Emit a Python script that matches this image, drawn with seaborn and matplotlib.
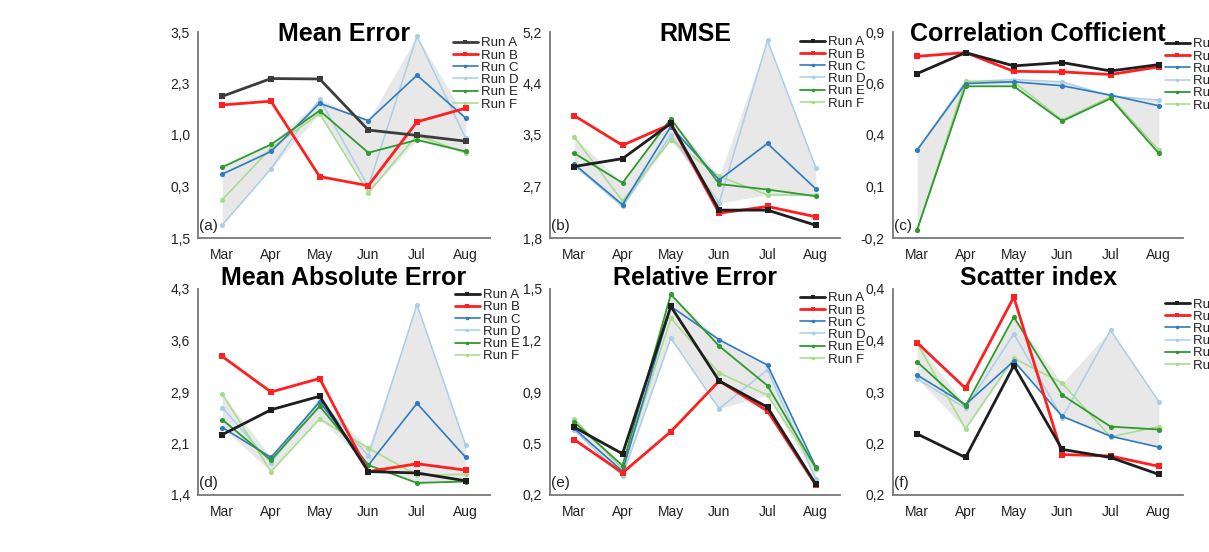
import matplotlib
matplotlib.use("Agg")
import matplotlib.pyplot as plt
import seaborn as sns
import numpy as np
import pandas as pd

months = ["Mar", "Apr", "May", "Jun", "Jul", "Aug"]
runs = ["Run A", "Run B", "Run C", "Run D", "Run E", "Run F"]

# values, one dict per metric
mean_error = {
    "Run A": [1.94, 2.37, 2.36, 1.12, 0.99, 0.85],
    "Run B": [1.73, 1.82, -0.01, -0.23, 1.32, 1.65],
    "Run C": [0.05, 0.60, 1.77, 1.35, 2.45, 1.41],
    "Run D": [-1.18, 0.18, 1.87, -0.25, 3.40, 0.92],
    "Run E": [0.22, 0.77, 1.59, 0.57, 0.88, 0.60],
    "Run F": [-0.57, 0.68, 1.52, -0.40, 1.00, 0.56],
}
rmse = {
    "Run A": [2.98, 3.11, 3.69, 2.26, 2.26, 2.01],
    "Run B": [3.82, 3.33, 3.68, 2.21, 2.32, 2.15],
    "Run C": [3.02, 2.35, 3.64, 2.76, 3.36, 2.61],
    "Run D": [3.00, 2.32, 3.50, 2.38, 5.06, 2.96],
    "Run E": [3.20, 2.71, 3.77, 2.69, 2.60, 2.49],
    "Run F": [3.47, 2.41, 3.42, 2.82, 2.51, 2.51],
}
correlation = {
    "Run A": [0.678, 0.79, 0.719, 0.737, 0.692, 0.726],
    "Run B": [0.77, 0.79, 0.69, 0.687, 0.673, 0.714],
    "Run C": [0.27, 0.625, 0.634, 0.613, 0.563, 0.506],
    "Run D": [0.27, 0.634, 0.646, 0.634, 0.558, 0.536],
    "Run E": [-0.156, 0.61, 0.61, 0.424, 0.545, 0.252],
    "Run F": [-0.156, 0.637, 0.634, 0.43, 0.554, 0.27],
}
mae = {
    "Run A": [2.25, 2.60, 2.79, 1.73, 1.71, 1.60],
    "Run B": [3.35, 2.85, 3.04, 1.73, 1.84, 1.75],
    "Run C": [2.35, 1.93, 2.71, 1.82, 2.69, 1.93],
    "Run D": [2.63, 1.85, 2.74, 1.95, 4.08, 2.10],
    "Run E": [2.46, 1.89, 2.65, 1.82, 1.57, 1.59],
    "Run F": [2.82, 1.73, 2.47, 2.06, 1.68, 1.69],
}
relative_error = {
    "Run A": [0.628, 0.46, 1.39, 0.92, 0.754, 0.267],
    "Run B": [0.55, 0.34, 0.60, 0.92, 0.73, 0.263],
    "Run C": [0.62, 0.35, 1.39, 1.18, 1.02, 0.376],
    "Run D": [0.61, 0.32, 1.19, 0.745, 0.99, 0.30],
    "Run E": [0.66, 0.386, 1.466, 1.14, 0.89, 0.37],
    "Run F": [0.68, 0.365, 1.315, 0.97, 0.83, 0.365],
}
scatter_index = {
    "Run A": [0.243, 0.211, 0.336, 0.222, 0.211, 0.188],
    "Run B": [0.367, 0.305, 0.429, 0.215, 0.213, 0.199],
    "Run C": [0.323, 0.283, 0.342, 0.267, 0.240, 0.225],
    "Run D": [0.318, 0.278, 0.379, 0.265, 0.384, 0.287],
    "Run E": [0.341, 0.281, 0.402, 0.296, 0.253, 0.249],
    "Run F": [0.366, 0.250, 0.346, 0.312, 0.239, 0.253],
}

titles = ["Mean Error", "RMSE", "Correlation Cofficient",
          "Mean Absolute Error", "Relative Error", "Scatter index"]
tags = ["(a)", "(b)", "(c)", "(d)", "(e)", "(f)"]
ylims = [(-1.5, 3.5), (1.8, 5.2), (-0.2, 0.9), (1.4, 4.3), (0.2, 1.5), (0.16, 0.44)]
ytick_labels = [
    ["1,5", "0,3", "1,0", "2,3", "3,5"],
    ["1,8", "2,7", "3,5", "4,4", "5,2"],
    ["-0,2", "0,1", "0,4", "0,6", "0,9"],
    ["1,4", "2,1", "2,9", "3,6", "4,3"],
    ["0,2", "0,5", "0,9", "1,2", "1,5"],
    ["0,2", "0,2", "0,3", "0,4", "0,4"],
]
metrics = [mean_error, rmse, correlation, mae, relative_error, scatter_index]

colors = {"Run A": "#1e1e1e", "Run B": "#ff1f1f", "Run C": "#2f7bbf",
          "Run D": "#a9cfe8", "Run E": "#2f9a2f", "Run F": "#a6dc8a"}
widths = {"Run A": 2.0, "Run B": 2.0, "Run C": 1.2, "Run D": 1.1, "Run E": 1.3, "Run F": 1.1}
marks = {"Run A": "s", "Run B": "s", "Run C": "o", "Run D": "o", "Run E": "o", "Run F": "o"}

sns.set_style("white")
plt.rcParams["font.family"] = ["Liberation Sans", "DejaVu Sans"]

fig = plt.figure(figsize=(12.09, 5.52), dpi=100)
lefts = [198, 550, 893]
rights = [490, 840, 1183]
tops = [32, 289]
H = 206
axes = []
for r in range(2):
    for c in range(3):
        axes.append(fig.add_axes([lefts[c] / 1209, (552 - tops[r] - H) / 552,
                                  (rights[c] - lefts[c]) / 1209, H / 552]))

title_y = [0.956, 0.956, 0.956, 1.02, 1.02, 1.02]
leg_x = [0.873, 0.862, 0.937, 0.88, 0.862, 0.937]
leg_y = [0.975, 0.98, 0.97, 1.0, 0.985, 0.955]
x = np.arange(len(months))

for i, ax in enumerate(axes):
    data = metrics[i]
    df = pd.DataFrame([(months[j], j, run, v) for run in runs for j, v in enumerate(data[run])],
                      columns=["month", "pos", "run", "value"])
    band = np.array([data[r] for r in ["Run C", "Run D", "Run E", "Run F"]])
    ax.fill_between(x, band.min(axis=0), band.max(axis=0), color="#d9d9d9", alpha=0.6,
                    lw=0, zorder=1)
    for run in ["Run D", "Run F", "Run C", "Run E", "Run B", "Run A"]:
        sub = df[df["run"] == run]
        ms = 4.5 if run in ("Run A", "Run B") else 3.7
        c = "#3c3c3c" if (i == 0 and run == "Run A") else colors[run]
        sns.lineplot(data=sub, x="pos", y="value", ax=ax, color=c, lw=widths[run],
                     marker=marks[run], markersize=ms, markeredgewidth=0, label=run,
                     zorder=3, legend=False)
    ax.set_xlim(-0.5, 5.5)
    ax.set_ylim(*ylims[i])
    ax.set_yticks(np.linspace(ylims[i][0], ylims[i][1], 5))
    ax.set_yticklabels(ytick_labels[i])
    ax.set_xticks(x)
    ax.set_xticklabels(months)
    ax.set_xticks(np.arange(-0.5, 6.0, 1.0), minor=True)
    ax.set_xlabel("")
    ax.set_ylabel("")
    ax.set_facecolor("none")
    for s in ["top", "right"]:
        ax.spines[s].set_visible(False)
    for s in ["left", "bottom"]:
        ax.spines[s].set_color("#777777")
        ax.spines[s].set_linewidth(1.3)
    ax.tick_params(axis="both", which="both", direction="out", color="#777777",
                   labelcolor="#222222", labelsize=10)
    ax.tick_params(axis="y", length=5, width=1.2, pad=1)
    ax.tick_params(axis="x", which="major", length=4, width=1.2, pad=3)
    ax.tick_params(axis="x", which="minor", length=3, width=1.0)
    ax.set_title(titles[i], fontsize=18, fontweight="bold", color="black",
                 y=title_y[i], pad=0)
    ax.text(0.003, 0.025, tags[i], transform=ax.transAxes, fontsize=11, color="#222222",
            ha="left", va="bottom")
    handles, labels = ax.get_legend_handles_labels()
    order = [labels.index(r) for r in runs]
    ax.legend([handles[k] for k in order], runs, loc="upper left",
              bbox_to_anchor=(leg_x[i], leg_y[i]), frameon=False, fontsize=9.5,
              labelspacing=0.0, handlelength=1.9, handletextpad=0.25,
              borderpad=0, borderaxespad=0, markerscale=0.7, labelcolor="#222222")

fig.savefig("out.png", dpi=100)
